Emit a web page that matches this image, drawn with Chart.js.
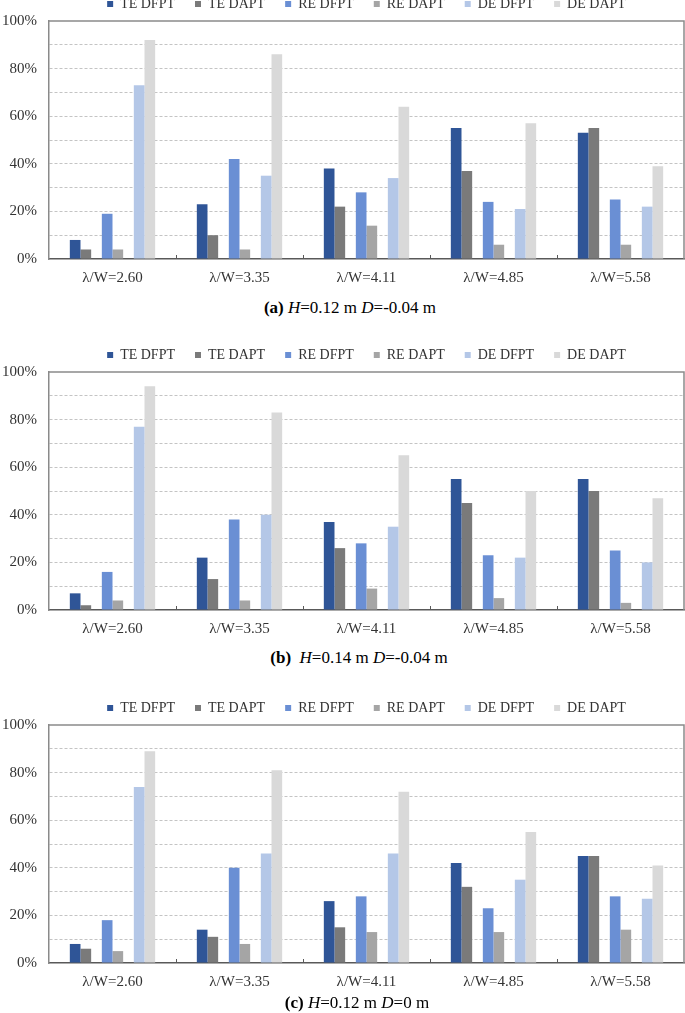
<!DOCTYPE html>
<html>
<head>
<meta charset="utf-8">
<script src="https://cdn.jsdelivr.net/npm/chart.js@4.4.0/dist/chart.umd.min.js"></script>
<style>
  html, body { margin: 0; padding: 0; background: #fff; overflow: hidden; }
  body { width: 685px; height: 1013px; position: relative; }
  canvas { position: absolute; left: 0; }
  .cap {
    position: absolute; width: 320px; text-align: center;
    font-family: 'Liberation Serif', 'Times New Roman', serif;
    font-size: 17px; line-height: 20px; color: #000; white-space: pre;
  }
</style>
</head>
<body>
<canvas id="chartA" width="685" height="320" style="top:-23px"></canvas>
<div class="cap" style="top:298px; left:190px"><b>(a)</b> <i>H</i>=0.12 m <i>D</i>=-0.04 m</div>
<canvas id="chartB" width="685" height="320" style="top:328px"></canvas>
<div class="cap" style="top:648px; left:199px"><b>(b)</b>  <i>H</i>=0.14 m <i>D</i>=-0.04 m</div>
<canvas id="chartC" width="685" height="320" style="top:681px"></canvas>
<div class="cap" style="top:993px; left:197px"><b>(c)</b> <i>H</i>=0.12 m <i>D</i>=0 m</div>

<script>
var categories = ['λ/W=2.60', 'λ/W=3.35', 'λ/W=4.11', 'λ/W=4.85', 'λ/W=5.58'];
var seriesNames = ['TE DFPT', 'TE DAPT', 'RE DFPT', 'RE DAPT', 'DE DFPT', 'DE DAPT'];

// (a) H=0.12 m D=-0.04 m
var teDfptA = [8, 23, 38, 55, 53];
var teDaptA = [4, 10, 22, 37, 55];
var reDfptA = [19, 42, 28, 24, 25];
var reDaptA = [4, 4, 14, 6, 6];
var deDfptA = [73, 35, 34, 21, 22];
var deDaptA = [92, 86, 64, 57, 39];

// (b) H=0.14 m D=-0.04 m
var teDfptB = [7, 22, 37, 55, 55];
var teDaptB = [2, 13, 26, 45, 50];
var reDfptB = [16, 38, 28, 23, 25];
var reDaptB = [4, 4, 9, 5, 3];
var deDfptB = [77, 40, 35, 22, 20];
var deDaptB = [94, 83, 65, 50, 47];

// (c) H=0.12 m D=0 m
var teDfptC = [8, 14, 26, 42, 45];
var teDaptC = [6, 11, 15, 32, 45];
var reDfptC = [18, 40, 28, 23, 28];
var reDaptC = [5, 8, 13, 13, 14];
var deDfptC = [74, 46, 46, 35, 27];
var deDaptC = [89, 81, 72, 55, 41];

var colors = ['#2f5597', '#7a7a7a', '#6a8fd4', '#a5a5a5', '#b4c7e7', '#d9d9d9'];
var serif = "'Liberation Serif', 'Times New Roman', serif";

// legend centred over the plot area instead of the whole canvas
var legendOverPlot = {
  id: 'legendOverPlot',
  afterLayout: function (chart) {
    chart.legend.left = chart.chartArea.left;
    chart.legend.right = chart.chartArea.right;
  }
};

// top/right frame and the little category separators on the x axis
var frame = {
  id: 'frame',
  afterDatasetsDraw: function (chart) {
    var ctx = chart.ctx;
    var a = chart.chartArea;
    var x = chart.scales.x;
    ctx.save();
    ctx.strokeStyle = '#8a8a8a';
    ctx.lineWidth = 1.5;
    ctx.beginPath();
    ctx.moveTo(a.left, a.top);
    ctx.lineTo(a.right, a.top);
    ctx.lineTo(a.right, a.bottom);
    ctx.stroke();
    ctx.strokeStyle = '#595959';
    ctx.lineWidth = 1;
    for (var i = 1; i < x.ticks.length; i++) {
      var px = Math.round((x.getPixelForTick(i - 1) + x.getPixelForTick(i)) / 2) + 0.5;
      ctx.beginPath();
      ctx.moveTo(px, a.bottom);
      ctx.lineTo(px, a.bottom - 4);
      ctx.stroke();
    }
    ctx.restore();
  }
};

function makeChart(id, series) {
  var datasets = [];
  series.forEach(function (values, i) {
    datasets.push({
      label: seriesNames[i],
      data: values,
      backgroundColor: colors[i],
      borderWidth: 0
    });
    // empty slot between the TE / RE / DE pairs
    if (i === 1 || i === 3) {
      datasets.push({ label: '', data: [], backgroundColor: 'transparent', borderWidth: 0 });
    }
  });

  return new Chart(document.getElementById(id).getContext('2d'), {
    type: 'bar',
    data: { labels: categories, datasets: datasets },
    options: {
      responsive: false,
      animation: false,
      layout: { padding: { left: 0, right: 1, top: 0, bottom: 0 } },
      datasets: { bar: { categoryPercentage: 0.672, barPercentage: 1 } },
      plugins: {
        tooltip: { enabled: false },
        legend: {
          position: 'top',
          labels: {
            filter: function (item) { return item.text !== ''; },
            boxWidth: 6,
            boxHeight: 6,
            padding: 20,
            color: '#333',
            font: { family: serif, size: 14 }
          }
        }
      },
      scales: {
        x: {
          grid: { display: true, drawOnChartArea: false, drawTicks: false },
          border: { display: true, color: '#595959', width: 1.5 },
          ticks: { color: '#333', padding: 10, font: { family: serif, size: 15 } }
        },
        y: {
          min: 0,
          max: 100,
          grid: {
            color: function (c) {
              return (c.tick.value === 0 || c.tick.value === 100) ? 'transparent' : '#c4c4c4';
            },
            tickColor: 'transparent',
            tickLength: 10
          },
          border: { display: true, color: '#8a8a8a', width: 1.5, dash: [3, 2] },
          ticks: {
            stepSize: 10,
            padding: 2,
            color: '#333',
            font: { family: serif, size: 15 },
            callback: function (v) { return v % 20 === 0 ? v + '%' : ''; }
          }
        }
      }
    },
    plugins: [legendOverPlot, frame]
  });
}

makeChart('chartA', [teDfptA, teDaptA, reDfptA, reDaptA, deDfptA, deDaptA]);
makeChart('chartB', [teDfptB, teDaptB, reDfptB, reDaptB, deDfptB, deDaptB]);
makeChart('chartC', [teDfptC, teDaptC, reDfptC, reDaptC, deDfptC, deDaptC]);
</script>
</body>
</html>
